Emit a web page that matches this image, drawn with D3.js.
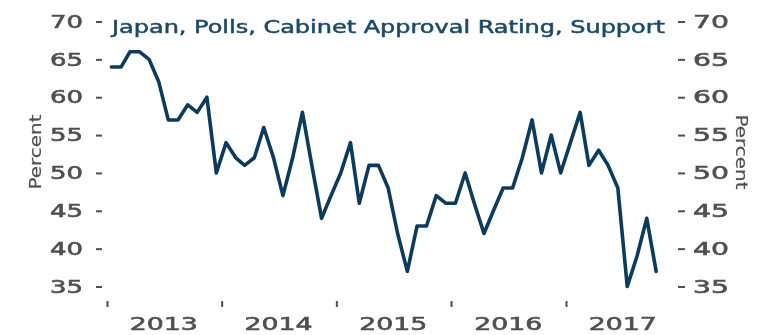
<!DOCTYPE html>
<html>
<head>
<meta charset="utf-8">
<script src="https://cdn.jsdelivr.net/npm/d3@7/dist/d3.min.js"></script>
<style>
  html, body { margin: 0; padding: 0; background: #ffffff; }
  svg { display: block; }
</style>
</head>
<body>
<svg id="chart" width="772" height="335"></svg>
<script>
// Japan cabinet approval rating (support, %), monthly polls Jan 2013 – Oct 2017
const startMonth = "2013-01";
const approval = [
  64, 64, 66, 66, 65, 62, 57, 57, 59, 58, 60, 50,   // 2013
  54, 52, 51, 52, 56, 52, 47, 52, 58, 51, 44, 47,   // 2014
  50, 54, 46, 51, 51, 48, 42, 37, 43, 43, 47, 46,   // 2015
  46, 50, 46, 42, 45, 48, 48, 52, 57, 50, 55, 50,   // 2016
  54, 58, 51, 53, 51, 48, 35, 39, 44, 37            // 2017
];
const yTicks = [35, 40, 45, 50, 55, 60, 65, 70];
const yearLabels = ["2013", "2014", "2015", "2016", "2017"];
const titleText = "Japan, Polls, Cabinet Approval Rating, Support";
const axisTitle = "Percent";

const parseMonth = d3.timeParse("%Y-%m");
const first = parseMonth(startMonth);
// each poll is placed mid-month
const points = approval.map((v, i) => ({
  date: d3.timeDay.offset(d3.timeMonth.offset(first, i), 14),
  value: v
}));

const svg = d3.select("#chart");
const defs = svg.append("defs");
defs.append("filter").attr("id", "soft")
  .attr("x", "-5%").attr("y", "-5%").attr("width", "110%").attr("height", "110%")
  .append("feGaussianBlur").attr("stdDeviation", 0.45);

const root = svg.append("g").attr("filter", "url(#soft)");

const x = d3.scaleTime()
  .domain([new Date(2013, 0, 1), new Date(2017, 0, 1)])
  .range([107, 566]);
const y = d3.scaleLinear().domain([35, 70]).range([286.5, 21.5]);

const labelColor = "#505050";
const fontFam = "'DejaVu Sans', 'Liberation Sans', sans-serif";

// heavier, wide label style
function labelStyle(sel, size, len) {
  sel.attr("fill", labelColor).attr("font-family", fontFam).attr("font-size", size)
    .attr("stroke", labelColor).attr("stroke-width", 0.6)
    .attr("textLength", len).attr("lengthAdjust", "spacingAndGlyphs");
}

// left axis
const left = root.append("g").attr("transform", "translate(102,0)")
  .call(d3.axisLeft(y).tickValues(yTicks).tickSize(6).tickPadding(13).tickFormat(d3.format("d")));
left.select(".domain").remove();
left.selectAll(".tick line").attr("stroke", labelColor).attr("stroke-width", 2);
left.selectAll(".tick text").call(labelStyle, 18, 33);

// right axis
const right = root.append("g").attr("transform", "translate(678,0)")
  .call(d3.axisRight(y).tickValues(yTicks).tickSize(7).tickPadding(8).tickFormat(d3.format("d")));
right.select(".domain").remove();
right.selectAll(".tick line").attr("stroke", labelColor).attr("stroke-width", 2);
right.selectAll(".tick text").call(labelStyle, 18, 36);

// x axis: small year-boundary ticks, labels centred on each year
const yearStarts = yearLabels.map(s => new Date(+s, 0, 1));
const xAxisG = root.append("g").attr("transform", "translate(0,301)")
  .call(d3.axisBottom(x).tickValues(yearStarts).tickSize(6).tickFormat(""));
xAxisG.select(".domain").remove();
xAxisG.selectAll(".tick line").attr("stroke", labelColor).attr("stroke-width", 2);

root.append("g").selectAll("text").data(yearLabels).join("text")
  .attr("x", d => x(new Date(+d, 6, 1)))
  .attr("y", 330)
  .attr("text-anchor", "middle")
  .call(labelStyle, 18, 68)
  .text(d => d);

// axis titles
root.append("text")
  .attr("transform", "translate(41,152) rotate(-90)")
  .attr("text-anchor", "middle")
  .call(labelStyle, 16, 75)
  .attr("stroke-width", 0.2)
  .text(axisTitle);
root.append("text")
  .attr("transform", "translate(736,152) rotate(90)")
  .attr("text-anchor", "middle")
  .call(labelStyle, 16, 75)
  .attr("stroke-width", 0.2)
  .text(axisTitle);

// chart title
root.append("text")
  .attr("x", 112).attr("y", 33)
  .attr("fill", "#1e4a68").attr("stroke", "#1e4a68").attr("stroke-width", 0.5)
  .attr("font-family", fontFam).attr("font-size", 17.5)
  .attr("textLength", 553).attr("lengthAdjust", "spacingAndGlyphs")
  .text(titleText);

// approval line
const line = d3.line().x(d => x(d.date)).y(d => y(d.value));
root.append("path")
  .datum(points)
  .attr("d", line)
  .attr("fill", "none")
  .attr("stroke", "#0e3a5c")
  .attr("stroke-width", 3.6)
  .attr("stroke-linejoin", "round")
  .attr("stroke-linecap", "round");
</script>
</body>
</html>
